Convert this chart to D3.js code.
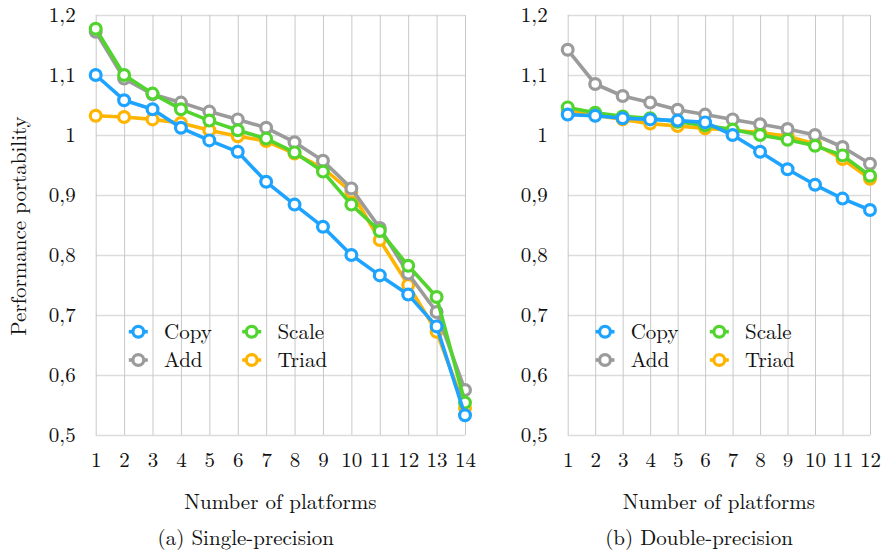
<!DOCTYPE html>
<html>
<head>
<meta charset="utf-8">
<script src="https://cdn.jsdelivr.net/npm/d3@7"></script>
<style>
  html, body { margin: 0; padding: 0; background: #fff; }
  svg { display: block; }
  text { font-family: "Latin Modern Roman", "Liberation Serif", serif; fill: #111; }
</style>
</head>
<body>
<svg id="chart" width="882" height="554"></svg>
<script>
// ---------- Data ----------
const seriesNames = ["Copy", "Add", "Scale", "Triad"];
const seriesColors = ["#1ea3ff", "#9b9b9b", "#52d42f", "#ffb400"];
const drawOrder = ["Triad", "Add", "Scale", "Copy"];

const xSingle = [1, 2, 3, 4, 5, 6, 7, 8, 9, 10, 11, 12, 13, 14];
const singleCopy  = [1.100, 1.058, 1.043, 1.012, 0.991, 0.972, 0.922, 0.884, 0.847, 0.800, 0.766, 0.734, 0.681, 0.533];
const singleAdd   = [1.172, 1.094, 1.068, 1.054, 1.039, 1.026, 1.012, 0.988, 0.957, 0.911, 0.845, 0.769, 0.705, 0.575];
const singleScale = [1.177, 1.100, 1.069, 1.043, 1.024, 1.008, 0.994, 0.971, 0.939, 0.884, 0.840, 0.782, 0.730, 0.554];
const singleTriad = [1.032, 1.030, 1.026, 1.020, 1.008, 0.998, 0.990, 0.969, 0.945, 0.905, 0.825, 0.750, 0.672, 0.545];

const xDouble = [1, 2, 3, 4, 5, 6, 7, 8, 9, 10, 11, 12];
const doubleCopy  = [1.034, 1.032, 1.028, 1.026, 1.024, 1.021, 1.000, 0.972, 0.943, 0.917, 0.894, 0.875];
const doubleAdd   = [1.142, 1.085, 1.065, 1.054, 1.042, 1.034, 1.026, 1.018, 1.010, 1.000, 0.980, 0.952];
const doubleScale = [1.046, 1.037, 1.031, 1.028, 1.022, 1.016, 1.009, 1.000, 0.992, 0.982, 0.966, 0.932];
const doubleTriad = [1.040, 1.033, 1.026, 1.019, 1.015, 1.011, 1.008, 1.004, 0.998, 0.985, 0.960, 0.927];

const yTicks = [0.5, 0.6, 0.7, 0.8, 0.9, 1.0, 1.1, 1.2];
const yTickLabels = ["0,5", "0,6", "0,7", "0,8", "0,9", "1", "1,1", "1,2"];

const xTitle = "Number of platforms";
const yTitle = "Performance portability";
const captions = ["(a) Single-precision", "(b) Double-precision"];

// ---------- Drawing ----------
const svg = d3.select("#chart");
const FONT = 21;
const FF = "Latin Modern Roman";

function drawPanel(cfg) {
  const g = svg.append("g");
  const x = d3.scaleLinear().domain([cfg.xs[0], cfg.xs[cfg.xs.length - 1]]).range([cfg.left, cfg.right]);
  const y = d3.scaleLinear().domain([0.5, 1.2]).range([435, 15]);

  // horizontal gridlines + y labels
  const yAxis = d3.axisLeft(y).tickValues(yTicks)
    .tickFormat((d, i) => yTickLabels[i])
    .tickSize(-(cfg.right - cfg.left)).tickPadding(20);
  const ya = g.append("g").attr("transform", `translate(${cfg.left},0)`).call(yAxis);
  ya.attr("font-family", FF);
  ya.select(".domain").remove();
  ya.selectAll("line").attr("stroke", "#dcdcdc").attr("stroke-width", 1.3);
  ya.selectAll("text").attr("font-size", FONT).attr("dy", "0.33em").attr("fill", "#111");

  // vertical gridlines + x labels
  const xAxis = d3.axisBottom(x).tickValues(cfg.xs).tickFormat(d3.format("d"))
    .tickSize(-(435 - 15)).tickPadding(0);
  const xa = g.append("g").attr("transform", "translate(0,435)").call(xAxis);
  xa.attr("font-family", FF);
  xa.select(".domain").remove();
  xa.selectAll("line").attr("stroke", "#c8c8c8").attr("stroke-width", 1);
  xa.selectAll("text").attr("y", 32).attr("dy", 0)
    .attr("font-size", FONT).attr("fill", "#111");

  // series
  const line = d3.line().x((d, i) => x(cfg.xs[i])).y(d => y(d));
  drawOrder.forEach(name => {
    const idx = seriesNames.indexOf(name);
    const vals = cfg.data[idx];
    const col = seriesColors[idx];
    g.append("path").datum(vals).attr("d", line)
      .attr("fill", "none").attr("stroke", col).attr("stroke-width", 3.6)
      .attr("stroke-linejoin", "round").attr("stroke-linecap", "round");
    g.selectAll(null).data(vals).enter().append("circle")
      .attr("cx", (d, i) => x(cfg.xs[i])).attr("cy", d => y(d)).attr("r", 5.4)
      .attr("fill", "#fff").attr("stroke", col).attr("stroke-width", 3.2);
  });

  // legend
  const lg = g.append("g");
  seriesNames.forEach((name, i) => {
    const c = (i === 0 || i === 1) ? 0 : 1;
    const r = (i === 0 || i === 2) ? 0 : 1;
    const cx = cfg.legendX + c * cfg.legendColGap;
    const cy = 331.7 + r * 28.3;
    lg.append("line").attr("x1", cx - 9.5).attr("x2", cx + 9.5).attr("y1", cy).attr("y2", cy)
      .attr("stroke", seriesColors[i]).attr("stroke-width", 3.6);
    lg.append("circle").attr("cx", cx).attr("cy", cy).attr("r", 5.4)
      .attr("fill", "#fff").attr("stroke", seriesColors[i]).attr("stroke-width", 3.2);
    lg.append("text").attr("x", cx + 25.7).attr("y", cy).attr("dy", "0.33em")
      .attr("font-size", FONT).text(name);
  });

  // x title and caption
  g.append("text").attr("x", (cfg.left + cfg.right) / 2).attr("y", 509)
    .attr("text-anchor", "middle").attr("font-size", FONT).text(xTitle);
  g.append("text").attr("x", cfg.captionX).attr("y", 545)
    .attr("text-anchor", "middle").attr("font-size", FONT).text(cfg.caption);
}

drawPanel({
  xs: xSingle, left: 95.7, right: 465,
  data: [singleCopy, singleAdd, singleScale, singleTriad],
  legendX: 138.3, legendColGap: 113.4,
  captionX: 245.8, caption: captions[0]
});
drawPanel({
  xs: xDouble, left: 567.7, right: 870,
  data: [doubleCopy, doubleAdd, doubleScale, doubleTriad],
  legendX: 605, legendColGap: 114.3,
  captionX: 699, caption: captions[1]
});

// y title
svg.append("text").attr("transform", "translate(26,226) rotate(-90)")
  .attr("text-anchor", "middle").attr("font-size", FONT).text(yTitle);
</script>
</body>
</html>
